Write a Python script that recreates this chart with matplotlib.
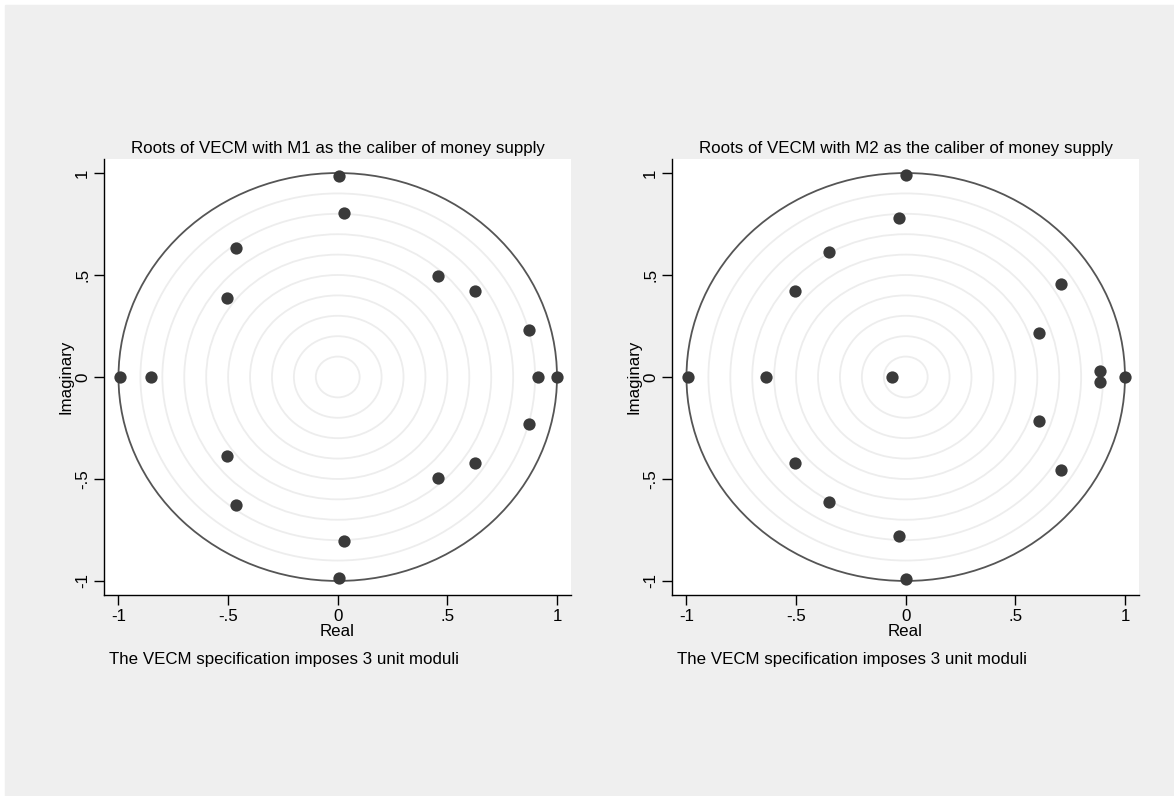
import matplotlib
matplotlib.use("Agg")
from matplotlib import pyplot as plt
from matplotlib.patches import Circle
import numpy as np

plt.rcParams['font.family'] = ['Liberation Sans', 'DejaVu Sans']

# roots (upper half; conjugates added below)
m1_real = [1.0, 0.913, -0.852, -0.994, 0.007, 0.030, -0.464, -0.505, 0.458, 0.626, 0.873]
m1_imag = [0.0, 0.0, 0.0, 0.0, 0.985, 0.805, 0.630, 0.387, 0.497, 0.421, 0.232]

m2_real = [1.0, -0.995, -0.636, -0.064, 0.0, -0.029, -0.352, -0.506, 0.706, 0.609, 0.887]
m2_imag = [0.0, 0.0, 0.0, 0.0, 0.992, 0.780, 0.613, 0.423, 0.455, 0.217, 0.027]

titles = ["Roots of VECM with M1 as the caliber of money supply",
          "Roots of VECM with M2 as the caliber of money supply"]
note = "The VECM specification imposes 3 unit moduli"
ticks = [-1, -0.5, 0, 0.5, 1]
tick_labels = ["-1", "-.5", "0", ".5", "1"]

bg = "#efefef"
dot = "#3a3a3a"
fs = 12.2


def with_conj(re, im):
    re = np.array(re)
    im = np.array(im)
    cplx = im != 0
    return np.concatenate([re, re[cplx]]), np.concatenate([im, -im[cplx]])


def root_plot(ax, re, im, title):
    ax.set_facecolor("white")
    for r in np.arange(0.1, 1.0, 0.1):
        ax.add_patch(Circle((0, 0), r, fill=False, ec="#ededed", lw=1.3, zorder=1))
    ax.add_patch(Circle((0, 0), 1, fill=False, ec="#555555", lw=1.3, zorder=2))
    x, y = with_conj(re, im)
    ax.scatter(x, y, s=78, color=dot, zorder=3, linewidths=0)
    ax.set_xlim(-1.066, 1.064)
    ax.set_ylim(-1.069, 1.069)
    ax.set_xticks(ticks)
    ax.set_xticklabels(tick_labels)
    ax.set_yticks(ticks)
    ax.set_yticklabels(tick_labels, rotation=90, va="center")
    ax.spines["top"].set_visible(False)
    ax.spines["right"].set_visible(False)
    ax.spines["left"].set_linewidth(1.0)
    ax.spines["bottom"].set_linewidth(1.0)
    ax.tick_params(length=7, width=1.0, labelsize=fs, pad=3, colors="black")
    ax.set_xlabel("Real", fontsize=fs, labelpad=0)
    ax.set_ylabel("Imaginary", fontsize=fs, labelpad=1)
    ax.set_title(title, fontsize=fs, pad=4)
    ax.text(0.01, -0.148, note, transform=ax.transAxes, fontsize=fs,
            ha="left", va="center")


fig = plt.figure(figsize=(11.74, 7.96), dpi=100)
fig.patch.set_facecolor("white")
fig.add_artist(plt.Rectangle((0.004, 0), 0.996, 0.994, transform=fig.transFigure,
                             color=bg, zorder=0))

ax1 = fig.add_axes([0.0886, 0.2525, 0.3978, 0.5478])
ax2 = fig.add_axes([0.5724, 0.2525, 0.3978, 0.5478])

root_plot(ax1, m1_real, m1_imag, titles[0])
root_plot(ax2, m2_real, m2_imag, titles[1])

fig.savefig("out.png", dpi=100, facecolor=fig.get_facecolor())
